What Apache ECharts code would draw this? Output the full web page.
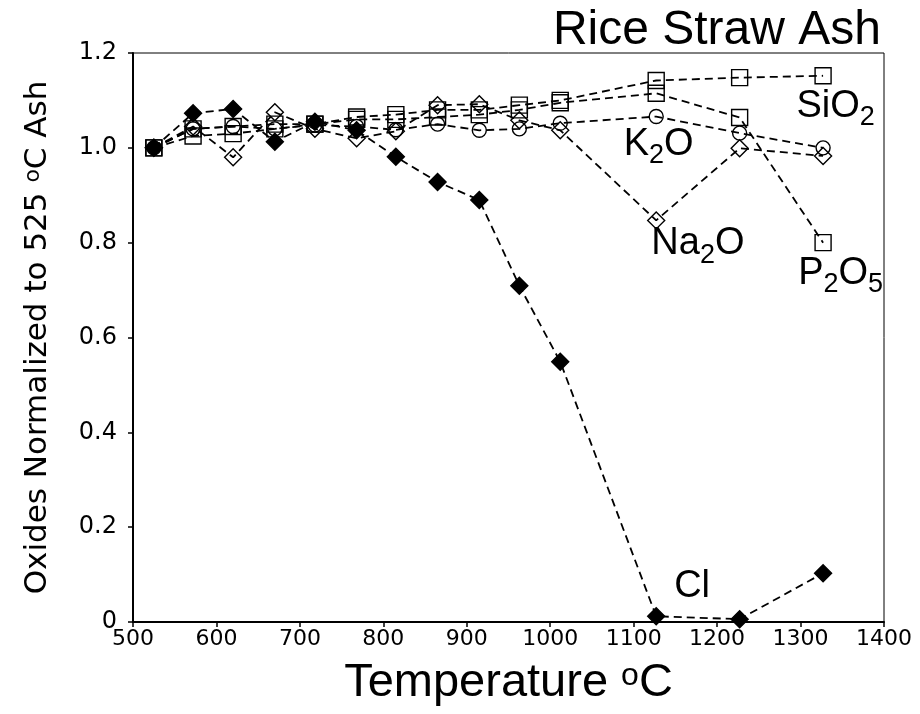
<!DOCTYPE html>
<html lang="en">
  <head>
    <meta charset="UTF-8" />
    <title>Rice Straw Ash</title>
    <script src="https://cdn.jsdelivr.net/npm/echarts@6/dist/echarts.min.js"></script>
    <style>
      body { margin: 0; background: #fff; }
    </style>
  </head>
  <body>
    <div id="main" style="width: 920px; height: 714px"></div>
    <script>
      // temperatures (oC) and oxide values normalized to the 525 oC ash
      var temps = [525, 572, 620, 670, 718, 768, 815, 865, 915, 963, 1012, 1127, 1227, 1327];
      var sio2 = [1.0, 1.04, 1.045, 1.05, 1.05, 1.065, 1.07, 1.08, 1.08, 1.09, 1.1, 1.142, 1.148, 1.152];
      var p2o5 = [1.0, 1.025, 1.03, 1.04, 1.05, 1.06, 1.06, 1.065, 1.07, 1.08, 1.095, 1.115, 1.064, 0.8];
      var k2o = [1.0, 1.04, 1.045, 1.04, 1.048, 1.045, 1.038, 1.05, 1.037, 1.04, 1.052, 1.066, 1.031, 1.0];
      var na2o = [1.0, 1.045, 0.98, 1.075, 1.04, 1.02, 1.035, 1.09, 1.092, 1.058, 1.037, 0.847, 0.999, 0.983];
      var cl = [1.0, 1.073, 1.082, 1.013, 1.055, 1.037, 0.981, 0.928, 0.89, 0.709, 0.549, 0.012, 0.006, 0.103];

      var labelFont = "Liberation Sans";
      var tickFont = "DejaVu Sans";

      function pairs(vals) {
        return temps.map(function (t, i) {
          return [t, vals[i]];
        });
      }

      // series label, placed in data coordinates
      function tag(text, x, y) {
        return {
          symbol: "rect",
          symbolSize: 0,
          silent: true,
          data: [{ coord: [x, y] }],
          label: {
            show: true,
            position: "inside",
            formatter: text,
            color: "#000",
            rich: {
              n: { fontFamily: labelFont, fontSize: 38, lineHeight: 40, color: "#000", verticalAlign: "bottom" },
              s: { fontFamily: labelFont, fontSize: 27, lineHeight: 30, color: "#000", verticalAlign: "bottom", padding: [0, 0, -6, 0] }
            }
          }
        };
      }

      function line(name, vals, symbol, size, filled, mark) {
        return {
          name: name,
          type: "line",
          data: pairs(vals),
          symbol: symbol,
          symbolSize: size,
          showAllSymbol: true,
          lineStyle: { color: "#000", width: 1.8, type: [8, 5] },
          itemStyle: {
            color: filled ? "#000" : "rgba(0,0,0,0)",
            borderColor: "#000",
            borderWidth: 1.4
          },
          emphasis: { disabled: true },
          markPoint: mark,
          z: filled ? 3 : 2
        };
      }

      var chart = echarts.init(document.getElementById("main"));
      chart.setOption({
        animation: false,
        title: {
          text: "Rice Straw Ash",
          right: 34,
          top: 2,
          textStyle: { fontFamily: labelFont, fontWeight: "normal", fontSize: 48, color: "#000" }
        },
        grid: {
          left: 133,
          right: 36,
          top: 53,
          bottom: 92,
          show: true,
          borderColor: "#000",
          borderWidth: 1
        },
        xAxis: {
          type: "value",
          min: 500,
          max: 1400,
          interval: 100,
          name: "Temperature {sup|o}C",
          nameLocation: "middle",
          nameGap: 38,
          nameTextStyle: {
            fontFamily: labelFont,
            fontSize: 47,
            color: "#000",
            verticalAlign: "top",
            rich: { sup: { fontFamily: labelFont, fontSize: 32, verticalAlign: "top", color: "#000" } }
          },
          axisLine: { show: true, onZero: false, lineStyle: { color: "#000", width: 2 } },
          axisTick: { show: true, inside: false, length: 5, lineStyle: { color: "#000", width: 1.5 } },
          axisLabel: {
            fontFamily: tickFont,
            fontSize: 22,
            color: "#000",
            margin: 6,
            formatter: function (v) {
              return String(v);
            }
          },
          splitLine: { show: false }
        },
        yAxis: {
          type: "value",
          min: 0,
          max: 1.2,
          interval: 0.2,
          name: "Oxides Normalized to 525 {sup|o}C Ash",
          nameLocation: "middle",
          nameGap: 80,
          nameTextStyle: {
            fontFamily: tickFont,
            fontSize: 31,
            color: "#000",
            rich: { sup: { fontFamily: tickFont, fontSize: 22, verticalAlign: "top", color: "#000" } }
          },
          axisLine: { show: true, onZero: false, lineStyle: { color: "#000", width: 2 } },
          axisTick: { show: true, inside: false, length: 5, lineStyle: { color: "#000", width: 1.5 } },
          axisLabel: {
            fontFamily: tickFont,
            fontSize: 24,
            color: "#000",
            margin: 16,
            formatter: function (v) {
              return v === 0 ? "0" : v.toFixed(1);
            }
          },
          splitLine: { show: false }
        },
        series: [
          line("SiO2", sio2, "rect", 16, false, tag("{n|SiO}{s|2}", 1342, 1.09)),
          line("P2O5", p2o5, "rect", 16, false, tag("{n|P}{s|2}{n|O}{s|5}", 1348, 0.738)),
          line("K2O", k2o, "circle", 14, false, tag("{n|K}{s|2}{n|O}", 1130, 1.01)),
          line("Na2O", na2o, "diamond", 17, false, tag("{n|Na}{s|2}{n|O}", 1177, 0.8)),
          line("Cl", cl, "diamond", 17, true, tag("{n|Cl}", 1170, 0.077))
        ]
      });
    </script>
  </body>
</html>
